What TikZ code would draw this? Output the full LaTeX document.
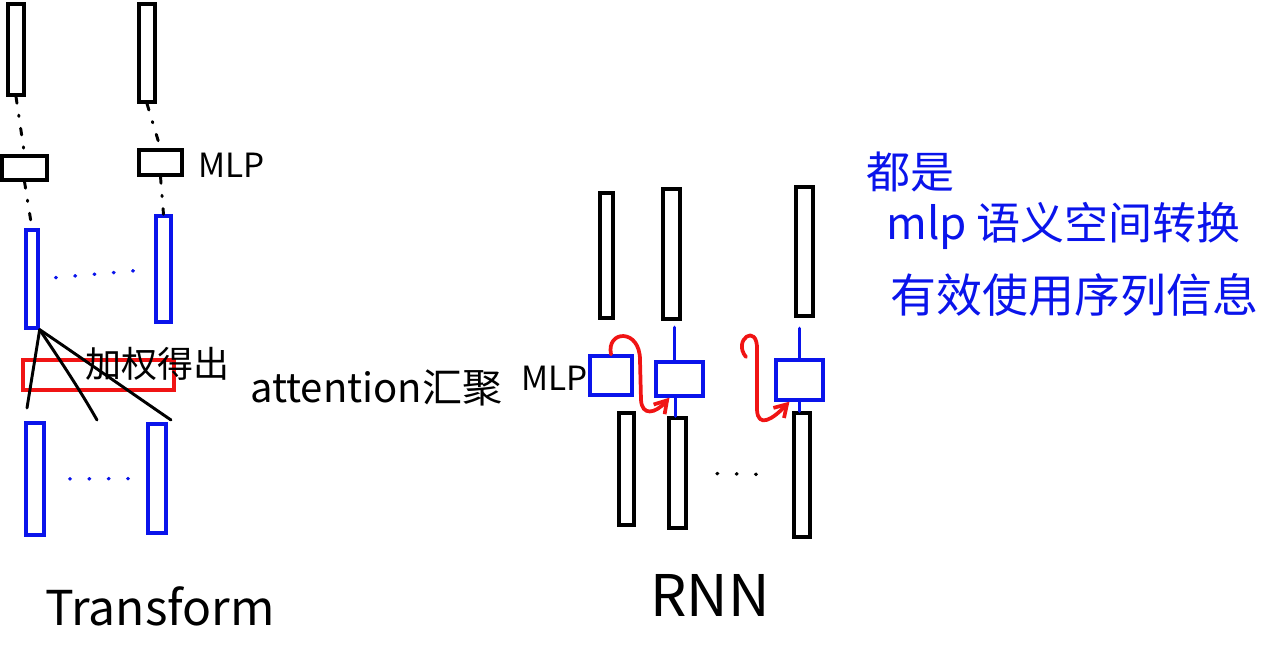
\documentclass[tikz,border=0pt]{standalone}
\usepackage{fontspec}
\setmainfont{Noto Sans CJK SC}
\usetikzlibrary{arrows.meta,calc}
\definecolor{pblue}{RGB}{10,20,235}
\definecolor{pred}{RGB}{240,20,20}
\newcommand\mkbox[6]{\node[#6, minimum width={(#4-#2)*0.75pt}, minimum height={(#5-#3)*0.75pt}] (#1) at ({(#2+#4)/2},{(#3+#5)/2}) {};}
\begin{document}
\begin{tikzpicture}[x=0.75pt,y=-0.75pt,
  blk/.style={draw=black, line width=2.5pt, inner sep=0pt},
  blu/.style={draw=pblue, line width=2.5pt, inner sep=0pt},
  rd/.style={draw=pred, line width=2.4pt, inner sep=0pt},
  ink/.style={line width=2.2pt, line cap=round},
  redink/.style={draw=pred, line width=2.8pt, line cap=round, line join=round},
  dashd/.style={ink, dash pattern=on 5pt off 9pt on 1pt off 9pt},
  dots/.style={line width=2.6pt, line cap=round, dash pattern=on 0.5pt off 14pt},
  lbl/.style={inner sep=0pt, font=\fontsize{25}{27}\selectfont},
  big/.style={inner sep=0pt, font=\fontsize{36}{40}\selectfont},
  note/.style={inner sep=0pt, text=pblue, font=\fontsize{33}{36}\selectfont}]
\useasboundingbox (0,0) rectangle (1267,653);
% ---------- Transformer ----------
\mkbox{T1}{8}{4}{24}{95}{blk}
\mkbox{T2}{139}{4}{155}{102}{blk}
\mkbox{M1}{2}{156}{47}{180}{blk}
\mkbox{M2}{139}{150}{182}{175}{blk}
\mkbox{B1}{26}{230}{38}{328}{blu}
\mkbox{B2}{156}{216}{171}{322}{blu}
\mkbox{R}{23}{360}{174}{390}{rd}
\mkbox{C1}{26}{423}{44}{535}{blu}
\mkbox{C2}{148}{424}{166}{533}{blu}
\draw[dashd] (T1.south) -- (M1.north);
\draw[dashd] (T2.south) -- (M2.north);
\draw[dashd] (M1.south) -- (B1.north);
\draw[dashd] (M2.south) -- (B2.north);
\draw[pblue, dots, shorten <=12pt, shorten >=8pt] (B1.east) -- (B2.west);
\draw[pblue, dots, shorten <=18pt, shorten >=10pt] (C1.east) -- (C2.west);
\coordinate (f1) at (27,408);
\coordinate (f2) at (97,420);
\coordinate (f3) at (171,420);
\draw[ink] (B1.south east) -- (f1);
\draw[ink] (B1.south east) .. controls (60,360) and (80,390) .. (f2);
\draw[ink] (B1.south east) .. controls (70,350) and (120,385) .. (f3);
\node[lbl, anchor=west] (mlpT) at (198,165) {MLP};
\node[lbl, font=\fontsize{27}{29}\selectfont] (jq) at (157,364) {加权得出};
\node[lbl, font=\fontsize{30}{32}\selectfont, anchor=west] (att) at (250,388) {attention汇聚};
\node[big] (tf) at (160,606) {Transform};
% ---------- RNN ----------
\mkbox{U1}{600}{193}{613}{318}{blk}
\mkbox{U2}{663}{189}{680}{319}{blk}
\mkbox{U3}{796}{187}{813}{316}{blk}
\mkbox{H1}{590}{356}{632}{395}{blu}
\mkbox{H2}{656}{362}{703}{396}{blu}
\mkbox{H3}{776}{360}{823}{400}{blu}
\mkbox{L1}{619}{413}{634}{525}{blk}
\mkbox{L2}{669}{418}{686}{528}{blk}
\mkbox{L3}{794}{413}{810}{537}{blk}
\coordinate (s2) at ($(H2.north)+(-5,-33)$);
\coordinate (s2b) at ($(H2.north)+(-5,0)$);
\coordinate (s3) at ($(H3.north)+(0,-30)$);
\draw[pblue, ink, line width=2.5pt] (s2b) -- (s2);
\draw[pblue, ink, line width=2.5pt] (H3.north) -- (s3);
\coordinate (d2) at ($(H2.south)+(-4,0)$);
\draw[pblue, ink, line width=2.5pt] (d2) -- (d2 |- L2.north);
\draw[pblue, ink, line width=2.5pt] (H3.south) -- (H3.south |- L3.north);
\coordinate (a1) at ($(H2.south west)!0.3!(H2.south east)$);
\coordinate (a3) at ($(H3.south west)!0.3!(H3.south east)$);
\draw[redink, -{Straight Barb[length=9pt,width=11pt]}]
  (H1.north) .. controls (606,330) and (640,328) .. (640,360)
  -- (641,400) .. controls (642,416) and (655,414) .. (a1);
\coordinate (h3) at (746,357);
\draw[redink, -{Straight Barb[length=9pt,width=11pt]}]
  (h3) .. controls (732,340) and (758,322) .. (757,350)
  -- (757,410) .. controls (758,428) and (772,420) .. (a3);
\draw[dots, shorten <=22pt, shorten >=18pt] (L2.east) -- (L3.west);
\node[lbl, anchor=east] (mlpR) at (588,378) {MLP};
\node[big, font=\fontsize{43}{46}\selectfont] (rnn) at (710,595) {RNN};
% ---------- note ----------
\node[note, anchor=west] (n1) at (866,172) {都是};
\node[note, anchor=west] (n2) at (886,226) {mlp 语义空间转换};
\node[note, anchor=west, font=\fontsize{34.5}{37}\selectfont] (n3) at (890,295) {有效使用序列信息};
\end{tikzpicture}
\end{document}
